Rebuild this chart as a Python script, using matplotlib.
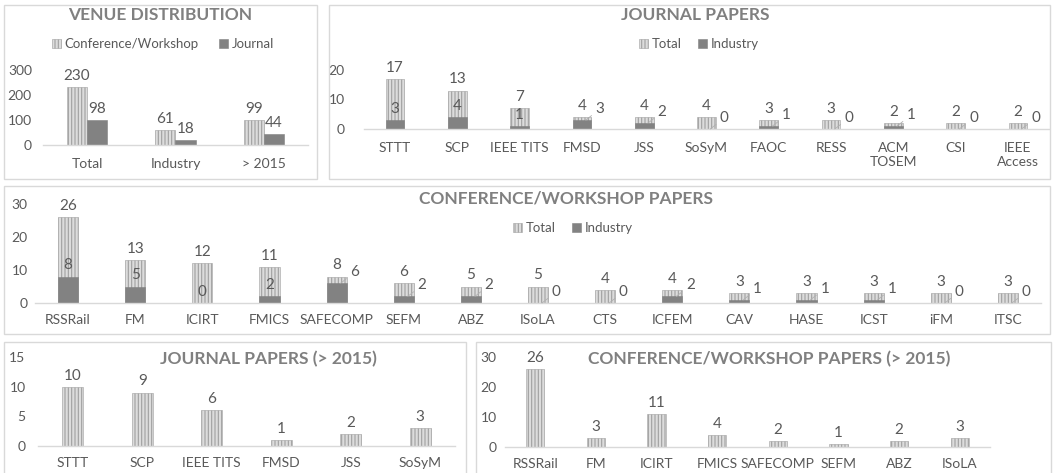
import matplotlib.pyplot as plt
from matplotlib.patches import Rectangle
import numpy as np

plt.rcParams['font.family'] = ['Lato', 'DejaVu Sans']
plt.rcParams['hatch.linewidth'] = 0.8

W, H = 1055, 473

# data
venue_cats = ['Total', 'Industry', '> 2015']
venue_conf = [230, 61, 99]
venue_journal = [98, 18, 44]

journals = ['STTT', 'SCP', 'IEEE TITS', 'FMSD', 'JSS', 'SoSyM', 'FAOC', 'RESS',
            'ACM\nTOSEM', 'CSI', 'IEEE\nAccess']
journal_total = [17, 13, 7, 4, 4, 4, 3, 3, 2, 2, 2]
journal_industry = [3, 4, 1, 3, 2, 0, 1, 0, 1, 0, 0]

confs = ['RSSRail', 'FM', 'ICIRT', 'FMICS', 'SAFECOMP', 'SEFM', 'ABZ', 'ISoLA',
         'CTS', 'ICFEM', 'CAV', 'HASE', 'ICST', 'iFM', 'ITSC']
conf_total = [26, 13, 12, 11, 8, 6, 5, 5, 4, 4, 3, 3, 3, 3, 3]
conf_industry = [8, 5, 0, 2, 6, 2, 2, 0, 0, 2, 1, 1, 1, 0, 0]

journals_2015 = ['STTT', 'SCP', 'IEEE TITS', 'FMSD', 'JSS', 'SoSyM']
journal_2015_total = [10, 9, 6, 1, 2, 3]

confs_2015 = ['RSSRail', 'FM', 'ICIRT', 'FMICS', 'SAFECOMP', 'SEFM', 'ABZ', 'ISoLA']
conf_2015_total = [26, 3, 11, 4, 2, 1, 2, 3]

TEXT = '#595959'
TITLE = '#808080'
BORDER = '#d9d9d9'
LIGHT = '#dcdcdc'
HATCH = '#a0a0a0'
DARK = '#828282'


# box in pixels (left, top, right, bottom) -> figure fraction rect
def pxRect(l, t, r, b):
    return [l / W, 1 - b / H, (r - l) / W, (b - t) / H]


def panelBox(fig, l, t, r, b):
    x, y, w, h = pxRect(l, t, r, b)
    fig.add_artist(Rectangle((x, y), w, h, transform=fig.transFigure,
                             fill=False, ec=BORDER, lw=1.0))


def styleAxes(ax, ymax, step, ylpad, xlpad):
    ax.set_ylim(0, ymax)
    ax.set_yticks(np.arange(0, ymax + 1, step))
    for s in ['top', 'right', 'left']:
        ax.spines[s].set_visible(False)
    ax.spines['bottom'].set_color(BORDER)
    ax.spines['bottom'].set_linewidth(1.0)
    ax.tick_params(axis='both', length=0, colors=TEXT, labelsize=10)
    ax.tick_params(axis='y', pad=ylpad)
    ax.tick_params(axis='x', pad=xlpad)
    ax.patch.set_alpha(0)


def title(fig, txt, x, y):
    fig.text(x / W, 1 - y / H, txt, ha='center', va='center', fontsize=12.5,
             fontweight='bold', color=TITLE)


def hatchBars(ax, x, vals, width):
    return ax.bar(x, vals, width, color=LIGHT, edgecolor=HATCH, hatch='|||||', lw=0.4)


def topLabels(ax, x, vals):
    for xi, v in zip(x, vals):
        ax.annotate(str(v), (xi, v), xytext=(0, 3), textcoords='offset points',
                    ha='center', va='bottom', fontsize=11, color=TEXT)


def industryLabels(ax, x, total, industry):
    for xi, t, v in zip(x, total, industry):
        if t - v >= 6:
            ax.annotate(str(v), (xi, v), xytext=(0, 3), textcoords='offset points',
                        ha='center', va='bottom', fontsize=11, color=TEXT)
        else:
            ax.annotate(str(v), (xi + 0.06, v), xytext=(7, 8), textcoords='offset points',
                        ha='left', va='center', fontsize=11, color=TEXT,
                        arrowprops=dict(arrowstyle='-', color='#b0b0b0', lw=0.6,
                                        shrinkA=1, shrinkB=0))


fig = plt.figure(figsize=(W / 100, H / 100), dpi=100)

panelBox(fig, 4, 5, 317, 179)
panelBox(fig, 329, 5, 1050, 179)
panelBox(fig, 4, 186, 1050, 334)
panelBox(fig, 4, 342, 466, 480)
panelBox(fig, 476, 342, 1051, 480)

# venue distribution
ax1 = fig.add_axes(pxRect(43, 70, 308, 145))
x = np.arange(len(venue_cats))
bw = 0.23
b1 = hatchBars(ax1, x - bw / 2, venue_conf, bw)
b2 = ax1.bar(x + bw / 2, venue_journal, bw, color=DARK, edgecolor=DARK, lw=0.4)
topLabels(ax1, x - bw / 2, venue_conf)
topLabels(ax1, x + bw / 2, venue_journal)
ax1.set_xticks(x, venue_cats)
ax1.set_xlim(-0.5, len(x) - 0.5)
styleAxes(ax1, 300, 100, 8, 9)
title(fig, 'VENUE DISTRIBUTION', 160, 15)
ax1.legend([b1, b2], ['Conference/Workshop', 'Journal'], loc='center', ncol=2,
           bbox_to_anchor=(163 / W, 1 - 44 / H), bbox_transform=fig.transFigure,
           frameon=False, fontsize=9.5, labelcolor=TEXT, handlelength=0.7,
           handleheight=0.7, handletextpad=0.3, columnspacing=1.5)

# journal papers
ax2 = fig.add_axes(pxRect(364, 70, 1049, 129))
x = np.arange(len(journals))
bw = 0.3
b1 = hatchBars(ax2, x, journal_total, bw)
b2 = ax2.bar(x, journal_industry, bw, color=DARK, edgecolor=DARK, lw=0.4)
topLabels(ax2, x, journal_total)
industryLabels(ax2, x, journal_total, journal_industry)
ax2.set_xticks(x, journals)
ax2.set_xlim(-0.5, len(x) - 0.5)
styleAxes(ax2, 20, 10, 14, 9)
title(fig, 'JOURNAL PAPERS', 695, 15)
ax2.legend([b1, b2], ['Total', 'Industry'], loc='center', ncol=2,
           bbox_to_anchor=(699 / W, 1 - 44 / H), bbox_transform=fig.transFigure,
           frameon=False, fontsize=9.5, labelcolor=TEXT, handlelength=0.7,
           handleheight=0.7, handletextpad=0.3, columnspacing=1.2)

# conference/workshop papers
ax3 = fig.add_axes(pxRect(34.5, 204, 1041.5, 303))
x = np.arange(len(confs))
b1 = hatchBars(ax3, x, conf_total, bw)
b2 = ax3.bar(x, conf_industry, bw, color=DARK, edgecolor=DARK, lw=0.4)
topLabels(ax3, x, conf_total)
industryLabels(ax3, x, conf_total, conf_industry)
ax3.set_xticks(x, confs)
ax3.set_xlim(-0.5, len(x) - 0.5)
styleAxes(ax3, 30, 10, 5, 8)
title(fig, 'CONFERENCE/WORKSHOP PAPERS', 566, 199)
ax3.legend([b1, b2], ['Total', 'Industry'], loc='center', ncol=2,
           bbox_to_anchor=(573 / W, 1 - 228 / H), bbox_transform=fig.transFigure,
           frameon=False, fontsize=9.5, labelcolor=TEXT, handlelength=0.7,
           handleheight=0.7, handletextpad=0.3, columnspacing=1.2)

# journal papers > 2015
ax4 = fig.add_axes(pxRect(38, 357, 455, 446))
x = np.arange(len(journals_2015))
hatchBars(ax4, x, journal_2015_total, bw)
topLabels(ax4, x, journal_2015_total)
ax4.set_xticks(x, journals_2015)
ax4.set_xlim(-0.5, len(x) - 0.5)
styleAxes(ax4, 15, 5, 9, 8)
title(fig, 'JOURNAL PAPERS (> 2015)', 268, 359)

# conference/workshop papers > 2015
ax5 = fig.add_axes(pxRect(505, 357, 990, 447))
x = np.arange(len(confs_2015))
hatchBars(ax5, x, conf_2015_total, bw)
topLabels(ax5, x, conf_2015_total)
ax5.set_xticks(x, confs_2015)
ax5.set_xlim(-0.5, len(x) - 0.5)
styleAxes(ax5, 30, 10, 6, 8)
title(fig, 'CONFERENCE/WORKSHOP PAPERS (> 2015)', 769, 359)

fig.savefig('out.png', dpi=100)
